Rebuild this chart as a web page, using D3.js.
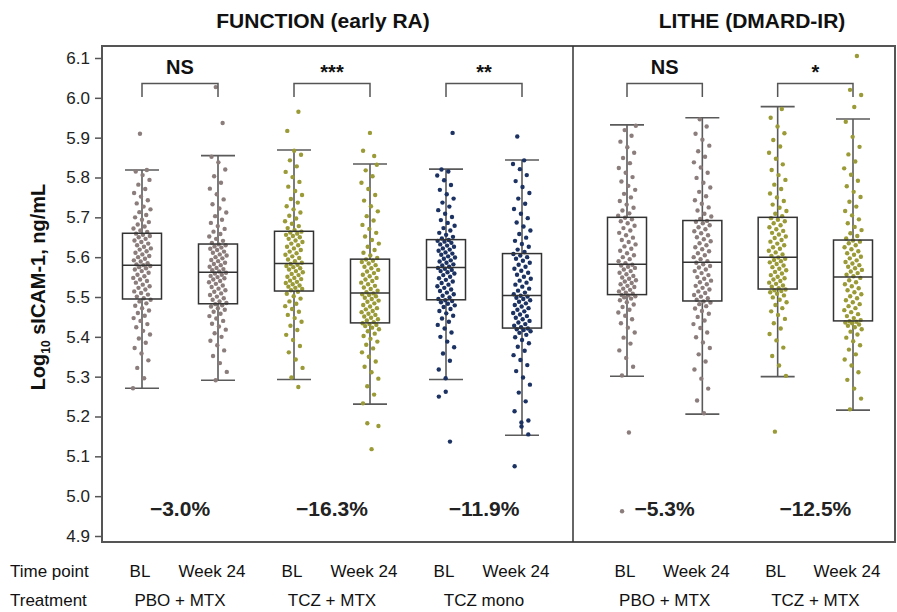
<!DOCTYPE html>
<html>
<head>
<meta charset="utf-8">
<script src="https://cdn.jsdelivr.net/npm/d3@7"></script>
<style>
  body { margin: 0; background: #fff; }
  svg { font-family: "Liberation Sans", Arial, sans-serif; }
</style>
</head>
<body>
<script>
// Study panels, treatments and time points
const studies = ["FUNCTION (early RA)", "LITHE (DMARD-IR)"];
const treatments = ["PBO + MTX", "TCZ + MTX", "TCZ mono", "PBO + MTX", "TCZ + MTX"];
const treatmentStudy = [0, 0, 0, 1, 1];
const timePoints = ["BL", "Week 24"];
const sigLabels = ["NS", "***", "**", "NS", "*"];
const pctChange = [-3.0, -16.3, -11.9, -5.3, -12.5];
const yTicks = [4.9, 5.0, 5.1, 5.2, 5.3, 5.4, 5.5, 5.6, 5.7, 5.8, 5.9, 6.0, 6.1];

// Box statistics, one value per box (treatment x time point, left to right)
const whiskerLow  = [5.271, 5.291, 5.293, 5.231, 5.293, 5.153, 5.301, 5.206, 5.300, 5.216];
const q1          = [5.495, 5.483, 5.515, 5.435, 5.493, 5.422, 5.506, 5.490, 5.520, 5.440];
const median      = [5.580, 5.562, 5.584, 5.510, 5.574, 5.504, 5.582, 5.587, 5.600, 5.550];
const q3          = [5.660, 5.633, 5.665, 5.595, 5.644, 5.609, 5.700, 5.692, 5.700, 5.643];
const whiskerHigh = [5.819, 5.855, 5.869, 5.834, 5.821, 5.844, 5.932, 5.950, 5.978, 5.947];

// Individual patient values (log10 sICAM-1)
const ptsFnPboBL = [5.271,5.296,5.322,5.341,5.358,5.372,5.385,5.396,5.406,5.415,5.424,5.432,5.440,5.447,5.453,5.460,5.466,5.472,5.478,5.484,5.489,5.493,
  5.497,5.501,5.506,5.510,5.514,5.519,5.523,5.527,5.531,5.536,5.540,5.544,5.548,5.552,5.556,5.561,5.565,5.569,5.572,5.575,5.578,5.580,
  5.582,5.585,5.589,5.592,5.596,5.600,5.603,5.607,5.611,5.615,5.619,5.622,5.626,5.630,5.634,5.638,5.642,5.646,5.650,5.653,5.656,5.659,
  5.663,5.667,5.672,5.677,5.682,5.688,5.694,5.700,5.706,5.713,5.720,5.727,5.735,5.743,5.752,5.761,5.771,5.782,5.794,5.806,5.815,5.819,
  5.910];
const ptsFnPboW24 = [5.291,5.312,5.334,5.352,5.366,5.379,5.390,5.400,5.409,5.418,5.426,5.433,5.440,5.446,5.452,5.458,5.463,5.468,5.472,5.476,5.479,5.482,
  5.485,5.489,5.493,5.497,5.501,5.505,5.509,5.513,5.517,5.521,5.525,5.529,5.533,5.537,5.540,5.544,5.547,5.550,5.553,5.556,5.559,5.561,
  5.564,5.567,5.570,5.573,5.576,5.580,5.583,5.586,5.590,5.593,5.597,5.600,5.604,5.607,5.611,5.614,5.618,5.621,5.624,5.627,5.630,5.632,
  5.636,5.641,5.646,5.652,5.658,5.664,5.671,5.678,5.686,5.694,5.703,5.712,5.722,5.733,5.745,5.758,5.772,5.787,5.803,5.820,5.838,5.852,
  5.937,6.027];
const ptsFnTczBL = [5.274,5.298,5.322,5.343,5.361,5.377,5.392,5.405,5.417,5.428,5.438,5.447,5.455,5.463,5.470,5.477,5.483,5.489,5.496,5.502,5.508,5.513,
  5.517,5.520,5.523,5.526,5.529,5.532,5.535,5.538,5.541,5.545,5.548,5.551,5.555,5.558,5.562,5.565,5.569,5.572,5.575,5.578,5.581,5.583,
  5.586,5.590,5.594,5.598,5.602,5.606,5.610,5.614,5.618,5.622,5.626,5.630,5.634,5.638,5.642,5.646,5.650,5.653,5.656,5.659,5.662,5.664,
  5.668,5.673,5.678,5.684,5.690,5.697,5.704,5.712,5.720,5.728,5.737,5.746,5.756,5.766,5.777,5.789,5.801,5.814,5.828,5.843,5.857,5.867,
  5.917,5.965];
const ptsFnTczW24 = [5.233,5.255,5.276,5.295,5.311,5.325,5.338,5.350,5.361,5.371,5.380,5.388,5.395,5.402,5.408,5.414,5.419,5.423,5.427,5.430,5.432,5.434,
  5.437,5.441,5.444,5.448,5.451,5.455,5.458,5.462,5.465,5.469,5.472,5.476,5.480,5.484,5.488,5.491,5.495,5.498,5.502,5.505,5.507,5.509,
  5.512,5.516,5.520,5.524,5.528,5.532,5.536,5.540,5.544,5.548,5.552,5.556,5.560,5.564,5.568,5.572,5.576,5.580,5.584,5.588,5.591,5.594,
  5.598,5.604,5.611,5.618,5.626,5.634,5.643,5.652,5.661,5.671,5.681,5.692,5.703,5.715,5.728,5.742,5.756,5.771,5.787,5.803,5.818,5.832,
  5.912,5.867,5.854,5.183,5.176,5.118];
const ptsFnMonoBL = [5.296,5.318,5.340,5.358,5.374,5.388,5.400,5.411,5.421,5.430,5.438,5.446,5.453,5.459,5.465,5.470,5.475,5.479,5.483,5.487,5.490,5.492,
  5.495,5.499,5.503,5.507,5.511,5.515,5.519,5.523,5.527,5.531,5.535,5.539,5.543,5.547,5.551,5.555,5.559,5.562,5.565,5.568,5.571,5.573,
  5.576,5.579,5.582,5.586,5.589,5.592,5.596,5.599,5.602,5.606,5.609,5.612,5.616,5.619,5.622,5.626,5.629,5.632,5.636,5.639,5.641,5.643,
  5.647,5.651,5.656,5.661,5.667,5.673,5.679,5.686,5.693,5.701,5.709,5.718,5.727,5.737,5.747,5.758,5.769,5.781,5.793,5.805,5.815,5.820,
  5.912,5.262,5.250,5.137];
const ptsFnMonoW24 = [5.155,5.185,5.213,5.238,5.260,5.280,5.298,5.314,5.329,5.342,5.354,5.365,5.375,5.384,5.392,5.399,5.405,5.410,5.414,5.417,5.419,5.421,
  5.424,5.428,5.432,5.436,5.440,5.444,5.448,5.452,5.456,5.460,5.464,5.468,5.472,5.476,5.480,5.484,5.488,5.492,5.495,5.498,5.501,5.503,
  5.507,5.511,5.516,5.521,5.526,5.531,5.536,5.541,5.546,5.551,5.556,5.561,5.566,5.571,5.576,5.581,5.586,5.591,5.596,5.600,5.604,5.608,
  5.613,5.619,5.626,5.633,5.641,5.649,5.658,5.667,5.677,5.687,5.698,5.709,5.721,5.734,5.747,5.761,5.776,5.791,5.806,5.821,5.834,5.843,
  5.903,5.190,5.175,5.075];
const ptsLiPboBL = [5.303,5.325,5.347,5.366,5.383,5.398,5.411,5.423,5.434,5.444,5.453,5.461,5.468,5.475,5.481,5.487,5.492,5.496,5.499,5.502,5.504,5.505,
  5.508,5.511,5.514,5.518,5.521,5.525,5.528,5.532,5.535,5.539,5.542,5.546,5.549,5.553,5.557,5.561,5.565,5.569,5.573,5.576,5.579,5.581,
  5.585,5.590,5.595,5.600,5.605,5.610,5.616,5.621,5.627,5.632,5.638,5.643,5.649,5.655,5.661,5.667,5.673,5.679,5.685,5.690,5.695,5.699,
  5.704,5.710,5.717,5.724,5.732,5.741,5.750,5.759,5.769,5.779,5.790,5.801,5.812,5.824,5.836,5.849,5.862,5.876,5.890,5.905,5.919,5.930,
  5.160,4.962];
const ptsLiPboW24 = [5.208,5.240,5.270,5.295,5.318,5.338,5.356,5.372,5.386,5.399,5.411,5.422,5.432,5.441,5.450,5.458,5.465,5.471,5.477,5.482,5.486,5.489,
  5.493,5.497,5.501,5.505,5.510,5.514,5.519,5.523,5.528,5.532,5.537,5.541,5.546,5.550,5.555,5.560,5.565,5.569,5.574,5.578,5.582,5.586,
  5.590,5.595,5.600,5.605,5.610,5.615,5.620,5.625,5.630,5.635,5.640,5.645,5.650,5.655,5.660,5.665,5.670,5.675,5.680,5.685,5.689,5.691,
  5.696,5.702,5.709,5.717,5.725,5.734,5.743,5.753,5.764,5.775,5.787,5.799,5.812,5.825,5.838,5.852,5.866,5.880,5.895,5.910,5.928,5.946];
const ptsLiTczBL = [5.302,5.328,5.352,5.373,5.391,5.407,5.421,5.434,5.445,5.455,5.464,5.472,5.480,5.487,5.493,5.499,5.504,5.508,5.512,5.515,5.517,5.519,
  5.522,5.526,5.529,5.533,5.536,5.540,5.544,5.547,5.551,5.555,5.559,5.563,5.567,5.571,5.575,5.579,5.583,5.587,5.590,5.593,5.596,5.599,
  5.603,5.607,5.612,5.616,5.621,5.625,5.630,5.634,5.639,5.643,5.648,5.652,5.657,5.661,5.666,5.670,5.675,5.680,5.685,5.690,5.694,5.698,
  5.703,5.709,5.716,5.724,5.732,5.741,5.750,5.760,5.771,5.782,5.794,5.806,5.819,5.833,5.847,5.862,5.878,5.894,5.911,5.928,5.950,5.972,
  5.162];
const ptsLiTczW24 = [5.218,5.245,5.270,5.292,5.311,5.328,5.343,5.356,5.368,5.379,5.389,5.398,5.406,5.413,5.419,5.424,5.428,5.431,5.434,5.436,5.438,5.439,
  5.442,5.447,5.452,5.457,5.462,5.467,5.472,5.477,5.482,5.487,5.492,5.497,5.502,5.507,5.512,5.517,5.522,5.527,5.532,5.537,5.542,5.548,
  5.552,5.556,5.560,5.564,5.568,5.572,5.576,5.580,5.584,5.588,5.592,5.597,5.601,5.606,5.610,5.615,5.620,5.625,5.630,5.635,5.639,5.642,
  5.647,5.653,5.660,5.668,5.676,5.685,5.695,5.705,5.716,5.727,5.739,5.751,5.764,5.778,5.792,5.807,5.823,5.840,5.858,5.877,5.902,5.940,
  6.105,6.020,6.007,5.977];

const pointSets = [ptsFnPboBL, ptsFnPboW24, ptsFnTczBL, ptsFnTczW24, ptsFnMonoBL, ptsFnMonoW24,
  ptsLiPboBL, ptsLiPboW24, ptsLiTczBL, ptsLiTczW24];

const treatColor = ["#8b7d7b", "#9a9a36", "#1b3262", "#8b7d7b", "#9a9a36"];

// ---- layout ----
const W = 897, H = 612;
const plot = { left: 102, right: 895, top: 46, bottom: 542 };
const divider = 573;
const panelRange = [[142, 522], [627, 853]];
const boxW = 39, capW = 34, jitter = 9;

// one row per box
const boxes = d3.range(10).map(i => {
  const t = Math.floor(i / 2);
  return {
    id: i, treat: t, study: treatmentStudy[t], time: timePoints[i % 2],
    lo: whiskerLow[i], q1: q1[i], med: median[i], q3: q3[i], hi: whiskerHigh[i],
    pts: pointSets[i]
  };
});

const xPanel = studies.map((s, p) =>
  d3.scalePoint()
    .domain(boxes.filter(b => b.study === p).map(b => b.id))
    .range(panelRange[p]));
const xOf = b => xPanel[b.study](b.id);

const y = d3.scaleLinear().domain([4.9, 6.1]).range([536, 58]);

const svg = d3.select("body").append("svg")
  .attr("width", W).attr("height", H);

// Titles
svg.selectAll(".title").data(studies).join("text")
  .attr("x", (d, i) => i === 0 ? 323 : 752)
  .attr("y", 28)
  .attr("text-anchor", "middle")
  .attr("font-size", 21).attr("font-weight", "bold").attr("fill", "#111")
  .text(d => d);

// Y axis
const yAxis = svg.append("g")
  .attr("transform", `translate(${plot.left},0)`)
  .call(d3.axisLeft(y).tickValues(yTicks).tickFormat(d3.format(".1f")).tickSize(7).tickPadding(5));
yAxis.select(".domain").remove();
yAxis.selectAll(".tick line").attr("stroke", "#555").attr("stroke-width", 1.5);
yAxis.selectAll(".tick text").attr("font-size", 17).attr("fill", "#222")
  .attr("font-family", "Liberation Sans, Arial, sans-serif");

// Axis label
const yLab = svg.append("text")
  .attr("transform", "translate(45,287) rotate(-90)")
  .attr("text-anchor", "middle")
  .attr("font-size", 20).attr("font-weight", "bold").attr("fill", "#111");
yLab.append("tspan").text("Log");
yLab.append("tspan").attr("font-size", 12).attr("dy", 5).text("10");
yLab.append("tspan").attr("dy", -5).text(" sICAM-1, ng/mL");

// Whiskers
const g = svg.append("g");
boxes.forEach(b => {
  const cx = xOf(b);
  const wg = g.append("g").attr("stroke", "#5a5a5a").attr("stroke-width", 1.6);
  wg.append("line").attr("x1", cx).attr("x2", cx).attr("y1", y(b.hi)).attr("y2", y(b.q3));
  wg.append("line").attr("x1", cx).attr("x2", cx).attr("y1", y(b.q1)).attr("y2", y(b.lo));
  wg.append("line").attr("x1", cx - capW / 2).attr("x2", cx + capW / 2).attr("y1", y(b.hi)).attr("y2", y(b.hi));
  wg.append("line").attr("x1", cx - capW / 2).attr("x2", cx + capW / 2).attr("y1", y(b.lo)).attr("y2", y(b.lo));
});

// Jittered points (fixed low-discrepancy offsets, not data)
boxes.forEach(b => {
  const cx = xOf(b);
  g.append("g").selectAll("circle").data(b.pts).join("circle")
    .attr("cx", (d, i) => cx + (((i * 0.618034 + b.id * 0.37) % 1) - 0.5) * 2 * jitter)
    .attr("cy", d => y(d))
    .attr("r", 2.2)
    .attr("fill", treatColor[b.treat]);
});

// Boxes
boxes.forEach(b => {
  const cx = xOf(b);
  g.append("rect")
    .attr("x", cx - boxW / 2).attr("width", boxW)
    .attr("y", y(b.q3)).attr("height", y(b.q1) - y(b.q3))
    .attr("fill", "none").attr("stroke", "#333").attr("stroke-width", 1.5);
  g.append("line")
    .attr("x1", cx - boxW / 2).attr("x2", cx + boxW / 2)
    .attr("y1", y(b.med)).attr("y2", y(b.med))
    .attr("stroke", "#333").attr("stroke-width", 1.5);
});

// Frame and panel divider
svg.append("rect")
  .attr("x", plot.left).attr("y", plot.top)
  .attr("width", plot.right - plot.left).attr("height", plot.bottom - plot.top)
  .attr("fill", "none").attr("stroke", "#555").attr("stroke-width", 2);
svg.append("line")
  .attr("x1", divider).attr("x2", divider).attr("y1", plot.top).attr("y2", plot.bottom)
  .attr("stroke", "#333").attr("stroke-width", 1.5);

// Significance brackets, labels and % change
treatments.forEach((t, ti) => {
  const bl = boxes[ti * 2], wk = boxes[ti * 2 + 1];
  const x1 = xOf(bl), x2 = xOf(wk), mid = (x1 + x2) / 2;
  svg.append("path")
    .attr("d", `M${x1},97V83.5H${x2}V97`)
    .attr("fill", "none").attr("stroke", "#555").attr("stroke-width", 1.5);
  const isStar = sigLabels[ti].startsWith("*");
  svg.append("text")
    .attr("x", mid).attr("y", isStar ? 79 : 74)
    .attr("text-anchor", "middle")
    .attr("font-size", 20).attr("font-weight", "bold").attr("fill", "#111")
    .text(sigLabels[ti]);
  svg.append("text")
    .attr("x", mid).attr("y", 516)
    .attr("text-anchor", "middle")
    .attr("font-size", 21).attr("font-weight", "bold").attr("fill", "#222")
    .text((pctChange[ti] < 0 ? "\u2212" : "") + Math.abs(pctChange[ti]).toFixed(1) + "%");
});

// Bottom category rows
svg.append("text").attr("x", 10).attr("y", 577).attr("font-size", 17).attr("fill", "#111").text("Time point");
svg.append("text").attr("x", 10).attr("y", 606).attr("font-size", 17).attr("fill", "#111").text("Treatment");
boxes.forEach(b => {
  svg.append("text")
    .attr("x", xOf(b) - (b.time === "BL" ? 2 : 6)).attr("y", 577)
    .attr("text-anchor", "middle").attr("font-size", 17).attr("fill", "#111")
    .text(b.time);
});
treatments.forEach((t, ti) => {
  const mid = (xOf(boxes[ti * 2]) + xOf(boxes[ti * 2 + 1])) / 2;
  svg.append("text")
    .attr("x", mid).attr("y", 606)
    .attr("text-anchor", "middle").attr("font-size", 17).attr("fill", "#111")
    .text(t);
});
</script>
</body>
</html>
